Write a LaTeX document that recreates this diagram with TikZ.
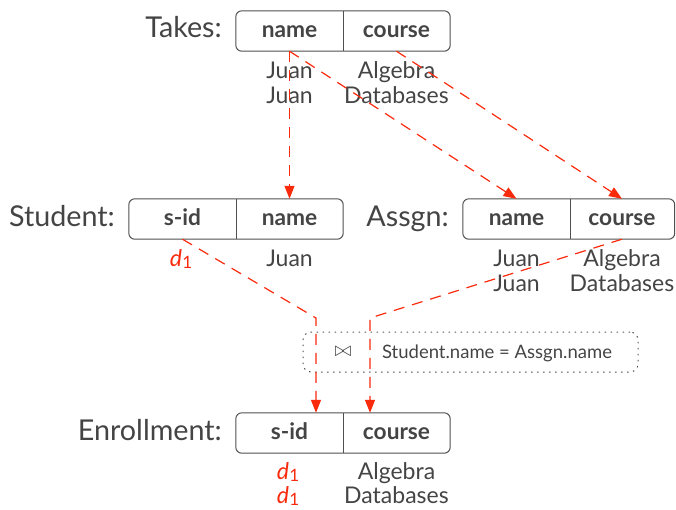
\documentclass[tikz,border=0pt]{standalone}
\usepackage{fontspec}
\setmainfont{Lato}
\usetikzlibrary{arrows.meta}
\definecolor{txt}{RGB}{68,68,68}
\definecolor{lin}{RGB}{80,80,80}
\definecolor{hl}{RGB}{250,42,12}
\newcommand\dsubone{{\color{hl}\textit{d}\kern0.3pt\raisebox{-0.2ex}{\fontsize{17}{17}\selectfont 1}}}
\tikzset{
  cell/.style={minimum width=107pt, minimum height=40pt, inner sep=0pt, text height=16pt, text depth=2.6pt, font=\fontsize{22.7}{25}\selectfont\bfseries, text=txt},
  lbl/.style={anchor=base east, inner sep=0pt, font=\fontsize{28.7}{31}\selectfont, text=txt},
  val/.style={anchor=base, inner sep=0pt, font=\fontsize{23}{25}\selectfont, text=txt},
  tbl/.style={draw=lin, line width=1pt, rounded corners=6pt},
  arr/.style={draw=hl, line width=1.2pt, dash pattern=on 11pt off 8pt, -{Triangle[length=13pt,width=10pt]}},
  joinbox/.style={draw=lin, line width=1pt, dash pattern=on 1.5pt off 4.5pt, rounded corners=8pt, minimum width=335pt, minimum height=40pt},
}
\begin{document}
\begin{tikzpicture}[x=1pt,y=-1pt]
\useasboundingbox (0,0) rectangle (676,509);
% Takes
\node[cell] (tname) at (289.5,31) {name};
\node[cell] (tcourse) at (396.5,31) {course};
\draw[tbl] (tname.north west) rectangle (tcourse.south east);
\draw[lin, line width=1pt] (tname.north east) -- (tname.south east);
\node[lbl] (tlab) at (222,37.8) {Takes:};
\node[val] (tv1a) at (289.5,78) {Juan};
\node[val] (tv1b) at (289.5,103.5) {Juan};
\node[val] (tv2a) at (396.5,78) {Algebra};
\node[val] (tv2b) at (396.5,103.5) {Databases};
% Student
\node[cell] (ssid) at (182.5,219) {s-id};
\node[cell] (sname) at (289.5,219) {name};
\draw[tbl] (ssid.north west) rectangle (sname.south east);
\draw[lin, line width=1pt] (ssid.north east) -- (ssid.south east);
\node[lbl] (slab) at (115,226.5) {Student:};
\node[val] (sv1) at (181,266) {\dsubone};
\node[val] (sv2) at (289.5,266) {Juan};
% Assgn
\node[cell] (aname) at (516.5,219) {name};
\node[cell] (acourse) at (622,219) {course};
\draw[tbl] (aname.north west) rectangle ([xshift=-1pt]acourse.south east);
\draw[lin, line width=1pt] (aname.north east) -- (aname.south east);
\node[lbl] (alab) at (449,226.5) {Assgn:};
\node[val] (av1a) at (516.5,266) {Juan};
\node[val] (av1b) at (516.5,291.5) {Juan};
\node[val] (av2a) at (622,266) {Algebra};
\node[val] (av2b) at (622,291.5) {Databases};
% Join
\node[joinbox] (join) at (470.5,352) {};
\node[text=txt, inner sep=0pt, font=\fontsize{20}{22}\selectfont] (bowtie) at (343,352) {$\bowtie$};
\node[text=txt, inner sep=0pt, anchor=base, font=\fontsize{18.5}{20}\selectfont] (cond) at (497,358.5) {Student.name~=~Assgn.name};
% Enrollment
\node[cell] (esid) at (289.5,433) {s-id};
\node[cell] (ecourse) at (396.5,433) {course};
\draw[tbl] (esid.north west) rectangle (ecourse.south east);
\draw[lin, line width=1pt] (esid.north east) -- (esid.south east);
\node[lbl] (elab) at (222,440.5) {Enrollment:};
\node[val] (ev1a) at (288,479.5) {\dsubone};
\node[val] (ev1b) at (288,503.5) {\dsubone};
\node[val] (ev2a) at (396.5,479.5) {Algebra};
\node[val] (ev2b) at (396.5,503.5) {Databases};
% arrows
\coordinate (j1) at (316,318);
\coordinate (j2) at (370,318);
\draw[arr] (tname.south) -- (sname.north);
\draw[arr] (tname.south) -- (aname.north);
\draw[arr] (tcourse.south) -- (acourse.north);
\draw[arr] (ssid.south) -- (j1) -- (j1 |- esid.north);
\draw[arr] (acourse.south) -- (j2) -- (j2 |- esid.north);
\end{tikzpicture}
\end{document}
